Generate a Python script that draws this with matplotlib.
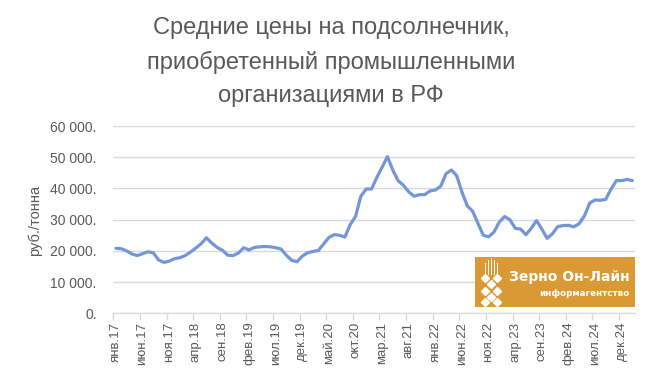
import numpy as np
import matplotlib
matplotlib.use('Agg')
import matplotlib.pyplot as plt
from matplotlib.patches import Rectangle

# monthly prices, rub/tonne, Jan 2017 .. Feb 2025
prices = [
    20800, 20700, 20000, 19000, 18500, 19100, 19700, 19400, 17100, 16300, 16700, 17500,   # 2017
    17800, 18500, 19600, 20900, 22300, 24200, 22500, 21100, 20200, 18600, 18500, 19300,   # 2018
    21000, 20300, 21100, 21300, 21400, 21300, 21000, 20600, 18600, 17000, 16500, 18300,   # 2019
    19400, 19800, 20100, 22200, 24300, 25200, 25000, 24400, 28400, 31000, 37500, 39800,   # 2020
    39800, 43500, 46800, 50200, 45900, 42500, 41000, 38900, 37500, 38000, 38000, 39200,   # 2021
    39500, 40700, 44700, 45900, 44100, 38800, 34400, 32700, 28800, 25000, 24500, 26000,   # 2022
    29200, 31000, 30000, 27200, 27000, 25200, 27200, 29700, 27000, 24000, 25500, 27800,   # 2023
    28100, 28200, 27700, 28700, 31200, 35300, 36300, 36200, 36500, 39800, 42500, 42500,   # 2024
    42900, 42500,                                                                          # 2025
]
months = ['янв', 'фев', 'мар', 'апр', 'май', 'июн', 'июл', 'авг', 'сен', 'окт', 'ноя', 'дек']
labels = [f'{months[i % 12]}.{17 + i // 12}' for i in range(len(prices))]
yticks = [0, 10000, 20000, 30000, 40000, 50000, 60000]
title_lines = ['Средние цены на подсолнечник,',
               'приобретенный промышленными',
               'организациями в РФ']

grey = '#595959'
grid_c = '#d9d9d9'
line_c = '#7396d6'
logo_c = '#d99a35'

fig = plt.figure(figsize=(6.54, 3.82), dpi=100)
ax = fig.add_axes([113.3 / 654, 1 - 313.3 / 382, (635 - 113.3) / 654, (313.3 - 126) / 382])

x = np.arange(len(prices))
ax.plot(x, prices, color=line_c, lw=2.3, solid_capstyle='round', solid_joinstyle='round', zorder=3)

ax.set_xlim(-0.5, len(prices) - 0.5)
ax.set_ylim(0, 60000)
ax.set_yticks(yticks)
ax.set_yticklabels([f'{v:,.0f}'.replace(',', ' ') + '.' for v in yticks],
                   fontsize=10, color=grey, family='Liberation Sans')
ax.tick_params(axis='y', length=0, pad=12)
ax.grid(True, axis='y', color=grid_c, lw=1)

# tick marks between categories, labels every 5 months
ax.set_xticks(np.arange(0, len(prices), 5) - 0.5)
ax.set_xticklabels([])
ax.set_xticks(np.arange(0, len(prices), 5), minor=True)
ax.set_xticklabels(labels[::5], minor=True, rotation=90, fontsize=9.5,
                   color=grey, family='Liberation Sans')
ax.tick_params(axis='x', which='major', length=5, color=grid_c, width=1)
ax.tick_params(axis='x', which='minor', length=0, pad=6)

for s in ['top', 'right', 'left']:
    ax.spines[s].set_visible(False)
ax.spines['bottom'].set_color(grid_c)
ax.set_axisbelow(True)

fig.text(35 / 654, 1 - 220 / 382, 'руб./тонна', rotation=90, ha='center', va='center',
         fontsize=10.5, color=grey, family='Liberation Sans')

for k, t in enumerate(title_lines):
    fig.text(331 / 654, 1 - (28 + 34 * k) / 382, t, ha='center', va='center',
             fontsize=17, color=grey, family='Liberation Sans')

# logo block
fig.patches.append(Rectangle((475 / 654, 1 - 307 / 382), 160 / 654, 50 / 382,
                             transform=fig.transFigure, facecolor=logo_c,
                             edgecolor='none', zorder=5))
fig.text(630 / 654, 1 - 277 / 382, 'Зерно Он-Лайн', ha='right', va='center',
         fontsize=10, color='white', weight='bold', family='DejaVu Sans', zorder=6)
fig.text(630 / 654, 1 - 293 / 382, 'информагентство', ha='right', va='center',
         fontsize=6.3, color='white', weight='bold', family='DejaVu Sans', zorder=6)

# icon: stalks and grains
for dx, top in [(-6, 263), (-3, 260), (0, 258), (3, 260), (6, 263)]:
    fig.add_artist(plt.Line2D([(491 + dx) / 654] * 2, [1 - top / 382, 1 - 274 / 382],
                              transform=fig.transFigure, color='white', lw=0.7, zorder=6))
dots = [(485, 278), (497, 278), (491, 284), (485, 291), (497, 291), (491, 297),
        (485, 302), (497, 302)]
for px, py in dots:
    fig.add_artist(plt.Line2D([px / 654], [1 - py / 382], marker='D', ms=3.6,
                              color='white', transform=fig.transFigure, zorder=6))

fig.savefig('out.png', dpi=100)
